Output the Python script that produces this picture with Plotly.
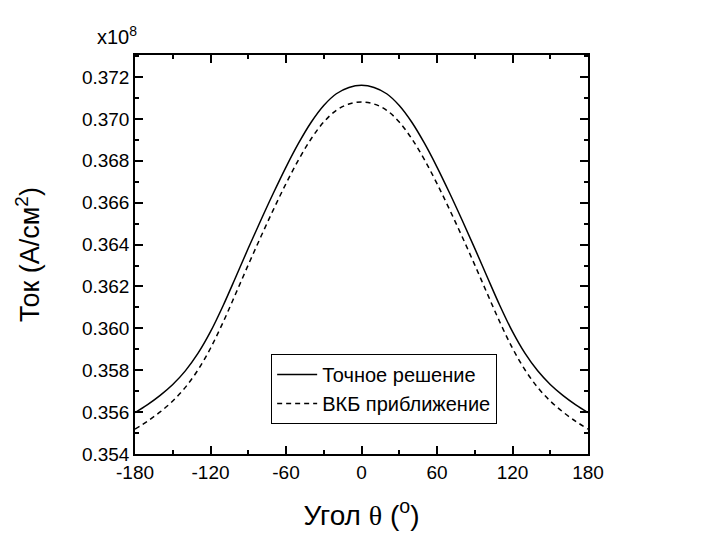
import plotly.graph_objects as go

angles = [-180, -170, -160, -150, -140, -130, -120, -110, -100, -90, -80, -70, -60, -50, -40, -30, -20, -10,
          0, 10, 20, 30, 40, 50, 60, 70, 80, 90, 100, 110, 120, 130, 140, 150, 160, 170, 180]

exact = [0.35598, 0.35636, 0.35680, 0.35732, 0.35797, 0.35880, 0.35984, 0.36108, 0.36244, 0.36382,
         0.36516, 0.36646, 0.36770, 0.36884, 0.36984, 0.37064, 0.37120, 0.37150,
         0.37160,
         0.37150, 0.37120, 0.37064, 0.36984, 0.36884, 0.36770, 0.36646, 0.36516, 0.36382,
         0.36244, 0.36108, 0.35984, 0.35880, 0.35797, 0.35732, 0.35680, 0.35636, 0.35598]

wkb = [0.35519, 0.35557, 0.35601, 0.35653, 0.35718, 0.35801, 0.35905, 0.36029, 0.36165, 0.36303,
       0.36437, 0.36567, 0.36691, 0.36805, 0.36905, 0.36985, 0.37041, 0.37071,
       0.37081,
       0.37071, 0.37041, 0.36985, 0.36905, 0.36805, 0.36691, 0.36567, 0.36437, 0.36303,
       0.36165, 0.36029, 0.35905, 0.35801, 0.35718, 0.35653, 0.35601, 0.35557, 0.35519]

x_ticks = [-180, -120, -60, 0, 60, 120, 180]
y_ticks = [0.354, 0.356, 0.358, 0.360, 0.362, 0.364, 0.366, 0.368, 0.370, 0.372]

series_names = ["Точное решение", "ВКБ приближение"]

fig = go.Figure()
fig.add_trace(go.Scatter(x=angles, y=exact, mode="lines", name=series_names[0],
                         line=dict(color="black", width=1.5, shape="spline", smoothing=1.0)))
fig.add_trace(go.Scatter(x=angles, y=wkb, mode="lines", name=series_names[1],
                         line=dict(color="black", width=1.5, dash="5px,4px", shape="spline", smoothing=1.0)))

font = "Liberation Sans, Arial, sans-serif"
fig.update_layout(
    width=697, height=533,
    margin=dict(l=127, r=117, t=47, b=87),
    paper_bgcolor="white", plot_bgcolor="white",
    font=dict(family=font, color="black", size=19),
    showlegend=True,
    legend=dict(x=0.55, y=0.163, xanchor="center", yanchor="middle",
                bgcolor="white", bordercolor="black", borderwidth=1,
                itemwidth=40,
                font=dict(size=20, family=font), tracegroupgap=0),
    xaxis=dict(range=[-180, 180], tickvals=x_ticks, ticktext=[str(v) for v in x_ticks],
               ticks="inside", ticklen=8, tickwidth=1.5, tickcolor="black",
               showline=True, linecolor="black", linewidth=1.5, mirror="allticks",
               showgrid=False, zeroline=False,
               minor=dict(dtick=30, tick0=0, ticks="inside", ticklen=4, tickwidth=1.5, tickcolor="black", showgrid=False),
               tickfont=dict(size=19),
               title=dict(text="Угол <span style=\"font-family:'Liberation Serif'\">θ</span> (<sup>o</sup>)",
                          font=dict(size=28), standoff=24)),
    yaxis=dict(range=[0.354, 0.37305], tickvals=y_ticks, ticktext=[f"{v:.3f}" for v in y_ticks],
               ticks="inside", ticklen=8, tickwidth=1.5, tickcolor="black",
               showline=True, linecolor="black", linewidth=1.5, mirror="allticks",
               showgrid=False, zeroline=False,
               minor=dict(dtick=0.001, tick0=0.354, ticks="inside", ticklen=4, tickwidth=1.5, tickcolor="black", showgrid=False),
               tickfont=dict(size=19),
               title=dict(text="Ток (А/см<sup>2</sup>)", font=dict(size=27), standoff=34)),
    annotations=[dict(text="x10<sup>8</sup>", xref="paper", yref="paper", x=0.0, y=1.0,
                      xanchor="right", yanchor="bottom", yshift=5, xshift=4, showarrow=False,
                      font=dict(size=20, family=font))],
)

fig.write_html("out.html")
